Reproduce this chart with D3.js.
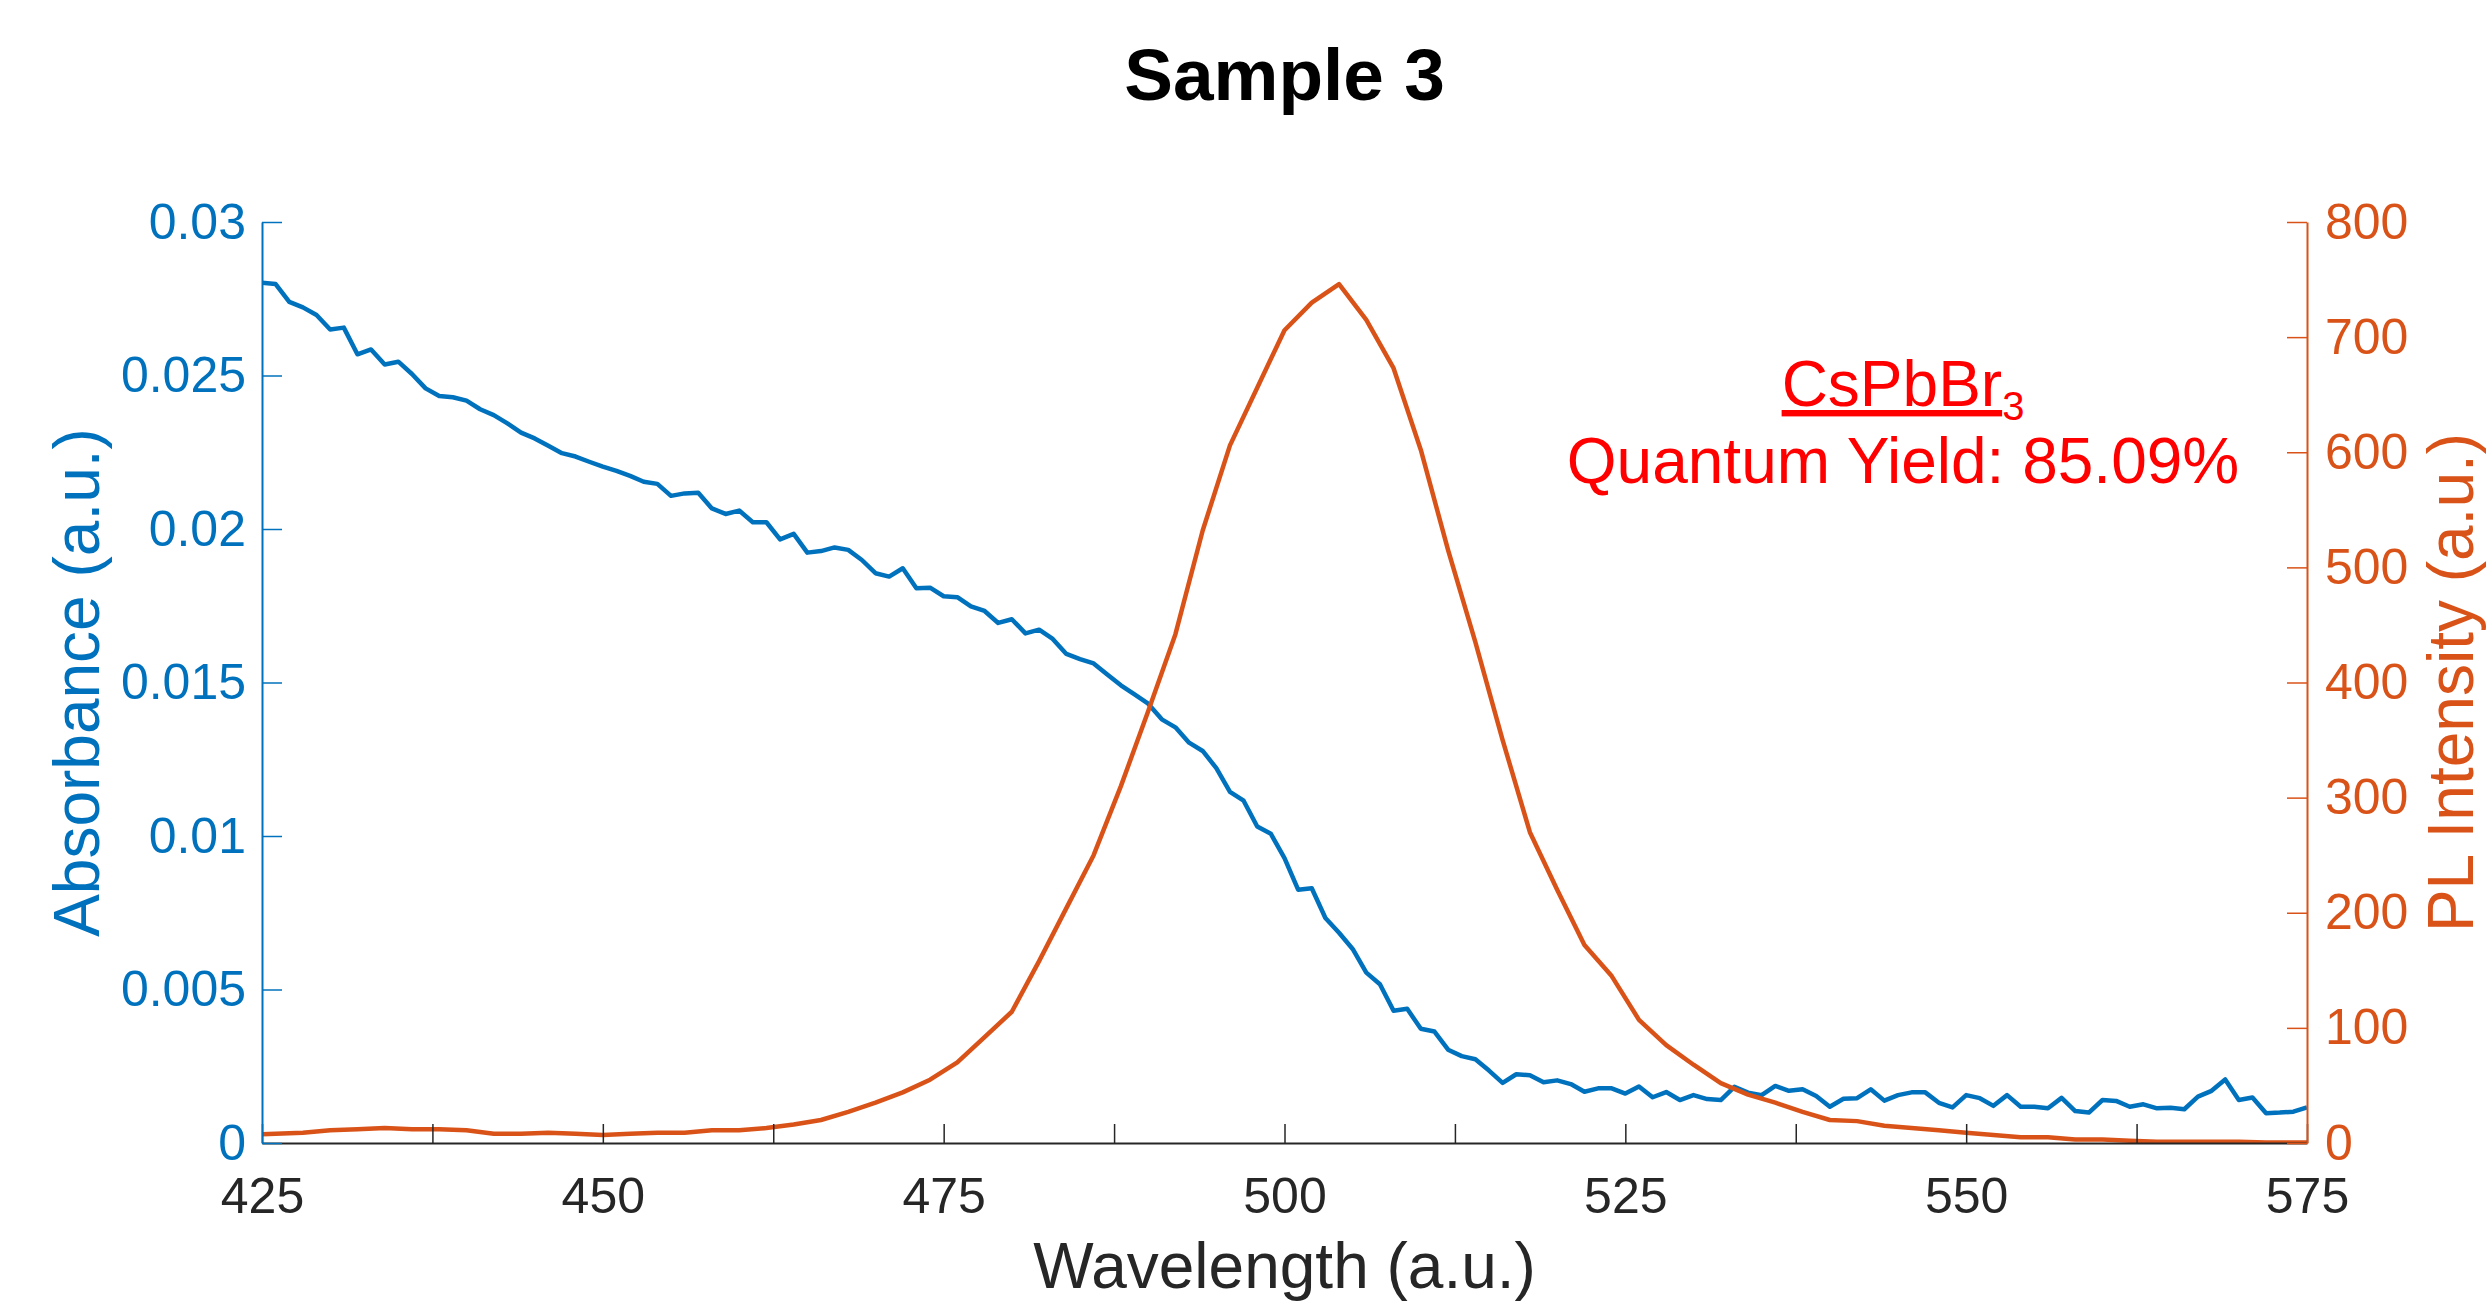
<!DOCTYPE html>
<html>
<head>
<meta charset="utf-8">
<script src="https://cdn.jsdelivr.net/npm/d3@7"></script>
<style>
  body { margin: 0; background: #fff; }
  text { font-family: "Liberation Sans", Arial, Helvetica, sans-serif; }
</style>
</head>
<body>
<div id="chart"></div>
<script>
// absorbance, one reading per nm from 425 to 575
var absStart = 425, absStep = 1;
var absorbance = [
  0.02802, 0.02798, 0.02740, 0.02722, 0.02697, 0.02650, 0.02656, 0.02569, 0.02585, 0.02536,
  0.02545, 0.02505, 0.02458, 0.02433, 0.02429, 0.02418, 0.02390, 0.02371, 0.02344, 0.02314,
  0.02295, 0.02271, 0.02247, 0.02236, 0.02219, 0.02203, 0.02189, 0.02173, 0.02154, 0.02147,
  0.02108, 0.02116, 0.02118, 0.02067, 0.02049, 0.02060, 0.02022, 0.02022, 0.01966, 0.01984,
  0.01923, 0.01928, 0.01940, 0.01932, 0.01899, 0.01856, 0.01845, 0.01872, 0.01807, 0.01809,
  0.01781, 0.01778, 0.01748, 0.01733, 0.01694, 0.01706, 0.01660, 0.01672, 0.01642, 0.01593,
  0.01576, 0.01562, 0.01526, 0.01491, 0.01461, 0.01431, 0.01380, 0.01354, 0.01304, 0.01277,
  0.01221, 0.01144, 0.01115, 0.01031, 0.01007, 0.00928, 0.00825, 0.00830, 0.00733, 0.00685,
  0.00632, 0.00555, 0.00517, 0.00431, 0.00437, 0.00372, 0.00363, 0.00304, 0.00283, 0.00273,
  0.00236, 0.00196, 0.00224, 0.00221, 0.00198, 0.00204, 0.00192, 0.00167, 0.00178, 0.00178,
  0.00161, 0.00184, 0.00149, 0.00166, 0.00140, 0.00156, 0.00143, 0.00140, 0.00183, 0.00164,
  0.00156, 0.00186, 0.00170, 0.00175, 0.00153, 0.00118, 0.00144, 0.00146, 0.00175, 0.00138,
  0.00156, 0.00165, 0.00165, 0.00131, 0.00116, 0.00156, 0.00146, 0.00121, 0.00156, 0.00118,
  0.00118, 0.00113, 0.00147, 0.00104, 0.00099, 0.00140, 0.00137, 0.00118, 0.00126, 0.00113,
  0.00115, 0.00110, 0.00151, 0.00170, 0.00207, 0.00140, 0.00148, 0.00097, 0.00099, 0.00102,
  0.00116
];

// PL intensity, every 2 nm from 424 to 576
var plStart = 424, plStep = 2;
var plIntensity = [
  7, 8, 9, 11, 12, 13, 12, 12, 11, 8,
  8, 9, 8, 7, 8, 9, 9, 11, 11, 13,
  16, 20, 27, 35, 44, 55, 70, 92, 114, 158,
  204, 250, 310, 375, 442, 532, 606, 656, 706, 730,
  746, 715, 673, 602, 515, 435, 350, 270, 220, 172,
  145, 107, 85, 68, 52, 42, 35, 27, 20, 19,
  15, 13, 11, 9, 7, 5, 5, 3, 3, 2,
  1, 1, 1, 1, 0.5, 0.5, 0.5
];

var xTicks = [425, 437.5, 450, 462.5, 475, 487.5, 500, 512.5, 525, 537.5, 550, 562.5, 575];
var xLabelled = [425, 450, 475, 500, 525, 550, 575];
var leftTicks = [0, 0.005, 0.01, 0.015, 0.02, 0.025, 0.03];
var rightTicks = [0, 100, 200, 300, 400, 500, 600, 700, 800];

var titleText = "Sample 3",
    xTitle = "Wavelength (a.u.)",
    leftTitle = "Absorbance (a.u.)",
    rightTitle = "PL Intensity (a.u.)",
    noteFormula = "CsPbBr",
    noteSub = "3",
    noteYield = "Quantum Yield: 85.09%";

var totalWidth = 2490,
    totalHeight = 1303,
    margin = {top: 222, right: 183, bottom: 160, left: 262};
var width = totalWidth - margin.left - margin.right,
    height = totalHeight - margin.top - margin.bottom;

var blue = "#0072BD",
    orange = "#D95319",
    grey = "#262626";

var absData = absorbance.map(function(v, i) { return [absStart + i * absStep, v]; });
var plData = plIntensity.map(function(v, i) { return [plStart + i * plStep, v]; });

var xScale = d3.scaleLinear().domain([425, 575]).range([0, width]);
var yLeft = d3.scaleLinear().domain([0, 0.03]).range([height, 0]);
var yRight = d3.scaleLinear().domain([0, 800]).range([height, 0]);

var svg = d3.select("#chart").append("svg")
    .attr("width", totalWidth)
    .attr("height", totalHeight);

svg.append("defs").append("clipPath").attr("id", "plot-clip")
  .append("rect").attr("width", width).attr("height", height);

var g = svg.append("g")
    .attr("transform", "translate(" + margin.left + "," + margin.top + ")");

// lines
var lines = g.append("g").attr("clip-path", "url(#plot-clip)");

lines.append("path")
    .datum(absData)
    .attr("fill", "none")
    .attr("stroke", blue)
    .attr("stroke-width", 4.5)
    .attr("stroke-linejoin", "round")
    .attr("d", d3.line().x(function(d) { return xScale(d[0]); }).y(function(d) { return yLeft(d[1]); }));

lines.append("path")
    .datum(plData)
    .attr("fill", "none")
    .attr("stroke", orange)
    .attr("stroke-width", 4.5)
    .attr("stroke-linejoin", "round")
    .attr("d", d3.line().x(function(d) { return xScale(d[0]); }).y(function(d) { return yRight(d[1]); }));

// axes
var xAxis = d3.axisBottom(xScale)
    .tickValues(xTicks)
    .tickSizeInner(-19)
    .tickSizeOuter(0)
    .tickPadding(34)
    .tickFormat(function(d) { return xLabelled.indexOf(d) >= 0 ? d : ""; });

var leftAxis = d3.axisLeft(yLeft)
    .tickValues(leftTicks)
    .tickSizeInner(-20)
    .tickSizeOuter(0)
    .tickPadding(16)
    .tickFormat(function(d) { return String(d); });

var rightAxis = d3.axisRight(yRight)
    .tickValues(rightTicks)
    .tickSizeInner(-20)
    .tickSizeOuter(0)
    .tickPadding(18)
    .tickFormat(function(d) { return String(d); });

function styleAxis(sel, color) {
    sel.select(".domain").attr("stroke", color).attr("stroke-width", 2);
    sel.selectAll(".tick line").attr("stroke", color).attr("stroke-width", 1.5);
    sel.selectAll(".tick text")
        .attr("fill", color)
        .style("font-size", "50px")
        .style("font-family", "'Liberation Sans', Arial, Helvetica, sans-serif");
}

var gx = g.append("g").attr("transform", "translate(0," + height + ")").call(xAxis);
styleAxis(gx, grey);

var gl = g.append("g").call(leftAxis);
styleAxis(gl, blue);

var gr = g.append("g").attr("transform", "translate(" + width + ",0)").call(rightAxis);
styleAxis(gr, orange);

// titles
svg.append("text")
    .attr("x", margin.left + width / 2)
    .attr("y", 100)
    .attr("text-anchor", "middle")
    .style("font-size", "73px")
    .style("font-weight", "bold")
    .attr("fill", "#000")
    .text(titleText);

svg.append("text")
    .attr("x", margin.left + width / 2)
    .attr("y", 1288)
    .attr("text-anchor", "middle")
    .style("font-size", "64px")
    .attr("fill", grey)
    .text(xTitle);

svg.append("text")
    .attr("transform", "translate(99," + (margin.top + height / 2) + ") rotate(-90)")
    .attr("text-anchor", "middle")
    .style("font-size", "64px")
    .attr("fill", blue)
    .text(leftTitle);

svg.append("text")
    .attr("transform", "translate(2473," + (margin.top + height / 2) + ") rotate(-90)")
    .attr("text-anchor", "middle")
    .style("font-size", "64px")
    .attr("fill", orange)
    .text(rightTitle);

// annotation
var note = svg.append("g").attr("fill", "#FF0000");

var formula = note.append("text")
    .attr("x", 1903)
    .attr("y", 406)
    .attr("text-anchor", "middle")
    .style("font-size", "64px");
formula.append("tspan").style("text-decoration", "underline").text(noteFormula);
formula.append("tspan")
    .attr("dy", 14)
    .style("font-size", "40px")
    .text(noteSub);

note.append("text")
    .attr("x", 1903)
    .attr("y", 483)
    .attr("text-anchor", "middle")
    .style("font-size", "64px")
    .text(noteYield);
</script>
</body>
</html>
